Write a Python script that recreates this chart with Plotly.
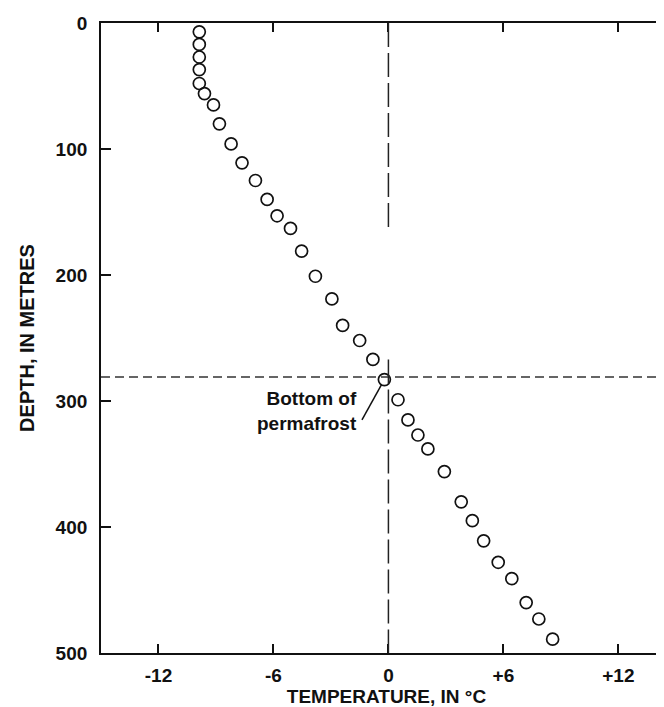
import plotly.graph_objects as go

# Temperature (deg C) and depth (m)
temperature_c = [-9.87, -9.87, -9.87, -9.87, -9.87, -9.6, -9.13, -8.82, -8.21, -7.64,
                 -6.94, -6.33, -5.81, -5.11, -4.53, -3.81, -2.95, -2.39, -1.5, -0.81,
                 -0.21, 0.5, 1.02, 1.54, 2.06, 2.92, 3.8, 4.38, 4.97, 5.73,
                 6.44, 7.19, 7.85, 8.57]
depth_m = [7, 17, 27, 37, 48, 56, 65, 80, 96, 111,
           125, 140, 153, 163, 181, 201, 219, 240, 252, 267,
           283, 299, 315, 327, 338, 356, 380, 395, 411, 428,
           441, 460, 473, 489]

permafrost_depth = 281
zero_line_segments = [(0, 166), (267, 500)]
leader_line = [(-1.38, 315), (-0.36, 287)]

x_tickvals = [-12, -6, 0, 6, 12]
x_ticktext = ["-12", "-6", "0", "+6", "+12"]
y_tickvals = [0, 100, 200, 300, 400, 500]
y_ticktext = ["0", "100", "200", "300", "400", "500"]

FONT = "Liberation Sans"
INK = "#111111"

fig = go.Figure()

fig.add_trace(go.Scatter(
    x=temperature_c, y=depth_m, mode="markers",
    marker=dict(symbol="circle-open", size=12, color=INK, line=dict(width=1.7, color=INK)),
    showlegend=False, hoverinfo="x+y",
))

# permafrost bottom horizontal dashed line
fig.add_shape(type="line", xref="paper", yref="y", x0=0, x1=1,
              y0=permafrost_depth, y1=permafrost_depth,
              line=dict(color="#333333", width=1.5, dash="9px,5px"))
# 0 deg C vertical dashed segments
for y0, y1 in zero_line_segments:
    fig.add_shape(type="line", xref="x", yref="y", x0=0, x1=0, y0=y0, y1=y1,
                  line=dict(color="#222222", width=1.5, dash="24px,6px"))
# leader line
fig.add_shape(type="line", xref="x", yref="y",
              x0=leader_line[0][0], y0=leader_line[0][1],
              x1=leader_line[1][0], y1=leader_line[1][1],
              line=dict(color=INK, width=1.5))

fig.add_annotation(x=-1.53, y=308, xref="x", yref="y", text="Bottom of<br>permafrost",
                   showarrow=False, xanchor="right", yanchor="middle", align="right",
                   font=dict(family=FONT, size=19, color=INK, weight="bold"))

fig.update_layout(
    width=664, height=707,
    margin=dict(l=93, r=0, t=15, b=62),
    plot_bgcolor="white", paper_bgcolor="white",
    font=dict(family=FONT, color=INK),
)
fig.update_xaxes(
    range=[-15, 14.8], tickvals=x_tickvals, ticktext=x_ticktext,
    ticks="inside", ticklen=9, tickwidth=1.5, tickcolor=INK,
    showline=True, linecolor=INK, linewidth=1.8, mirror="ticks",
    showgrid=False, zeroline=False, automargin=False,
    tickfont=dict(family=FONT, size=19, color=INK, weight="bold"),
    ticklabelstandoff=4,
    title=dict(text="TEMPERATURE, IN °C", standoff=3,
               font=dict(family=FONT, size=19, color=INK, weight="bold")),
)
fig.update_yaxes(
    range=[500, 0], tickvals=y_tickvals, ticktext=y_ticktext,
    ticks="inside", ticklen=10, tickwidth=1.5, tickcolor=INK,
    showline=True, linecolor=INK, linewidth=1.8, mirror="ticks",
    showgrid=False, zeroline=False, automargin=False,
    tickfont=dict(family=FONT, size=19, color=INK, weight="bold"),
    ticklabelstandoff=8,
    title=dict(text="DEPTH, IN METRES", standoff=16,
               font=dict(family=FONT, size=20, color=INK, weight="bold")),
)

fig.write_html("out.html")
